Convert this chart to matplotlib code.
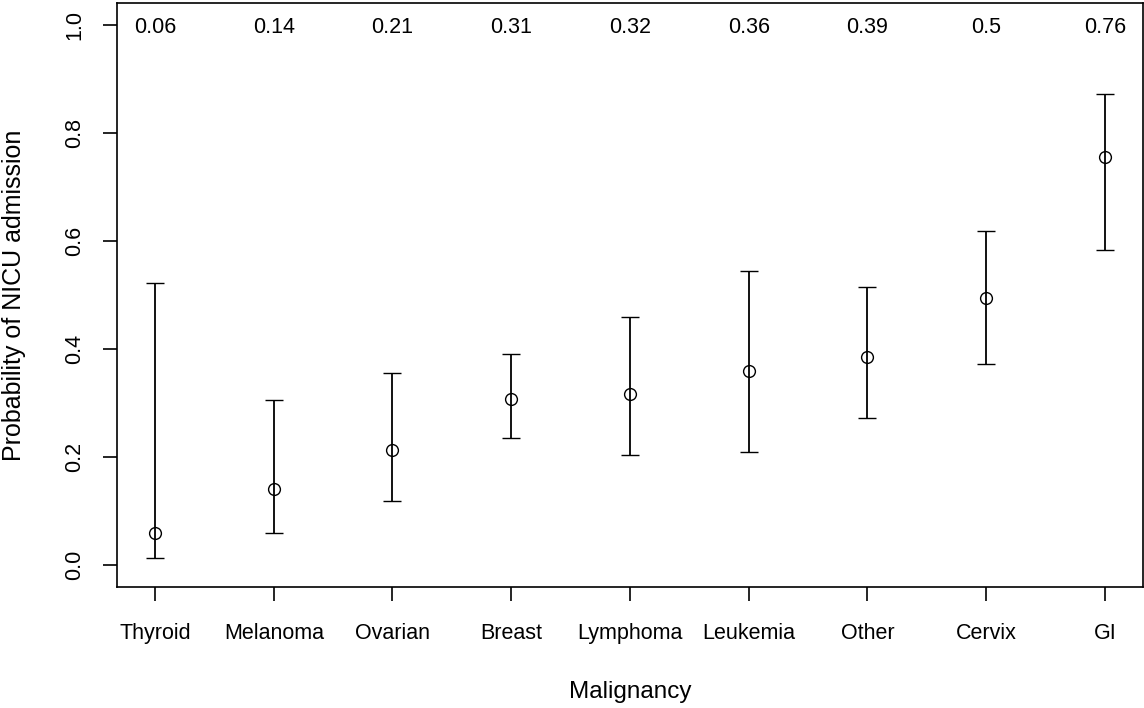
import matplotlib
matplotlib.use("Agg")
import matplotlib.pyplot as plt
import numpy as np

categories = ["Thyroid", "Melanoma", "Ovarian", "Breast", "Lymphoma", "Leukemia", "Other", "Cervix", "GI"]
prob = [0.059, 0.141, 0.213, 0.308, 0.317, 0.360, 0.385, 0.494, 0.756]
lower = [0.013, 0.059, 0.119, 0.235, 0.204, 0.209, 0.273, 0.372, 0.583]
upper = [0.523, 0.306, 0.356, 0.391, 0.459, 0.545, 0.514, 0.618, 0.872]
labels = ["0.06", "0.14", "0.21", "0.31", "0.32", "0.36", "0.39", "0.5", "0.76"]
yticks = [0.0, 0.2, 0.4, 0.6, 0.8, 1.0]

plt.rcParams['font.family'] = ['Liberation Sans', 'DejaVu Sans']

W, H = 1144, 708
fig = plt.figure(figsize=(W/100, H/100), dpi=100)
ax = fig.add_axes([117/W, (H-587)/H, (1143-117)/W, (587-3)/H])

x = np.arange(1, len(categories)+1)
p = np.array(prob)
yerr = np.vstack([p - np.array(lower), np.array(upper) - p])
ax.errorbar(x, p, yerr=yerr, fmt='o', mfc='none', mec='black', color='black',
            ms=8.5, mew=1.0, elinewidth=1.3, capsize=6.5, capthick=1.3, ecolor='black')

for xi, lab in zip(x, labels):
    ax.text(xi, 0.994, lab, ha='center', va='center', fontsize=15.5)

ax.set_xlim(0.68, 9.32)
ax.set_ylim(-0.04, 1.04)
ax.set_xticks(x)
ax.set_xticklabels(categories, fontsize=15.5)
ax.set_yticks(yticks)
ax.set_yticklabels([f"{v:.1f}" for v in yticks], fontsize=15.5, rotation=90, va='center')
ax.tick_params(axis='both', length=10, width=1.2, color='black')
ax.tick_params(axis='x', pad=16)
ax.tick_params(axis='y', pad=13)
for s in ax.spines.values():
    s.set_linewidth(1.2)
ax.set_xlabel("Malignancy", fontsize=17.5, va='center')
ax.set_ylabel("Probability of NICU admission", fontsize=18, va='center')
ax.xaxis.set_label_coords(0.5, (587-692)/584)
ax.yaxis.set_label_coords((14-117)/1026, 0.5)

fig.savefig("out.png", dpi=100)
